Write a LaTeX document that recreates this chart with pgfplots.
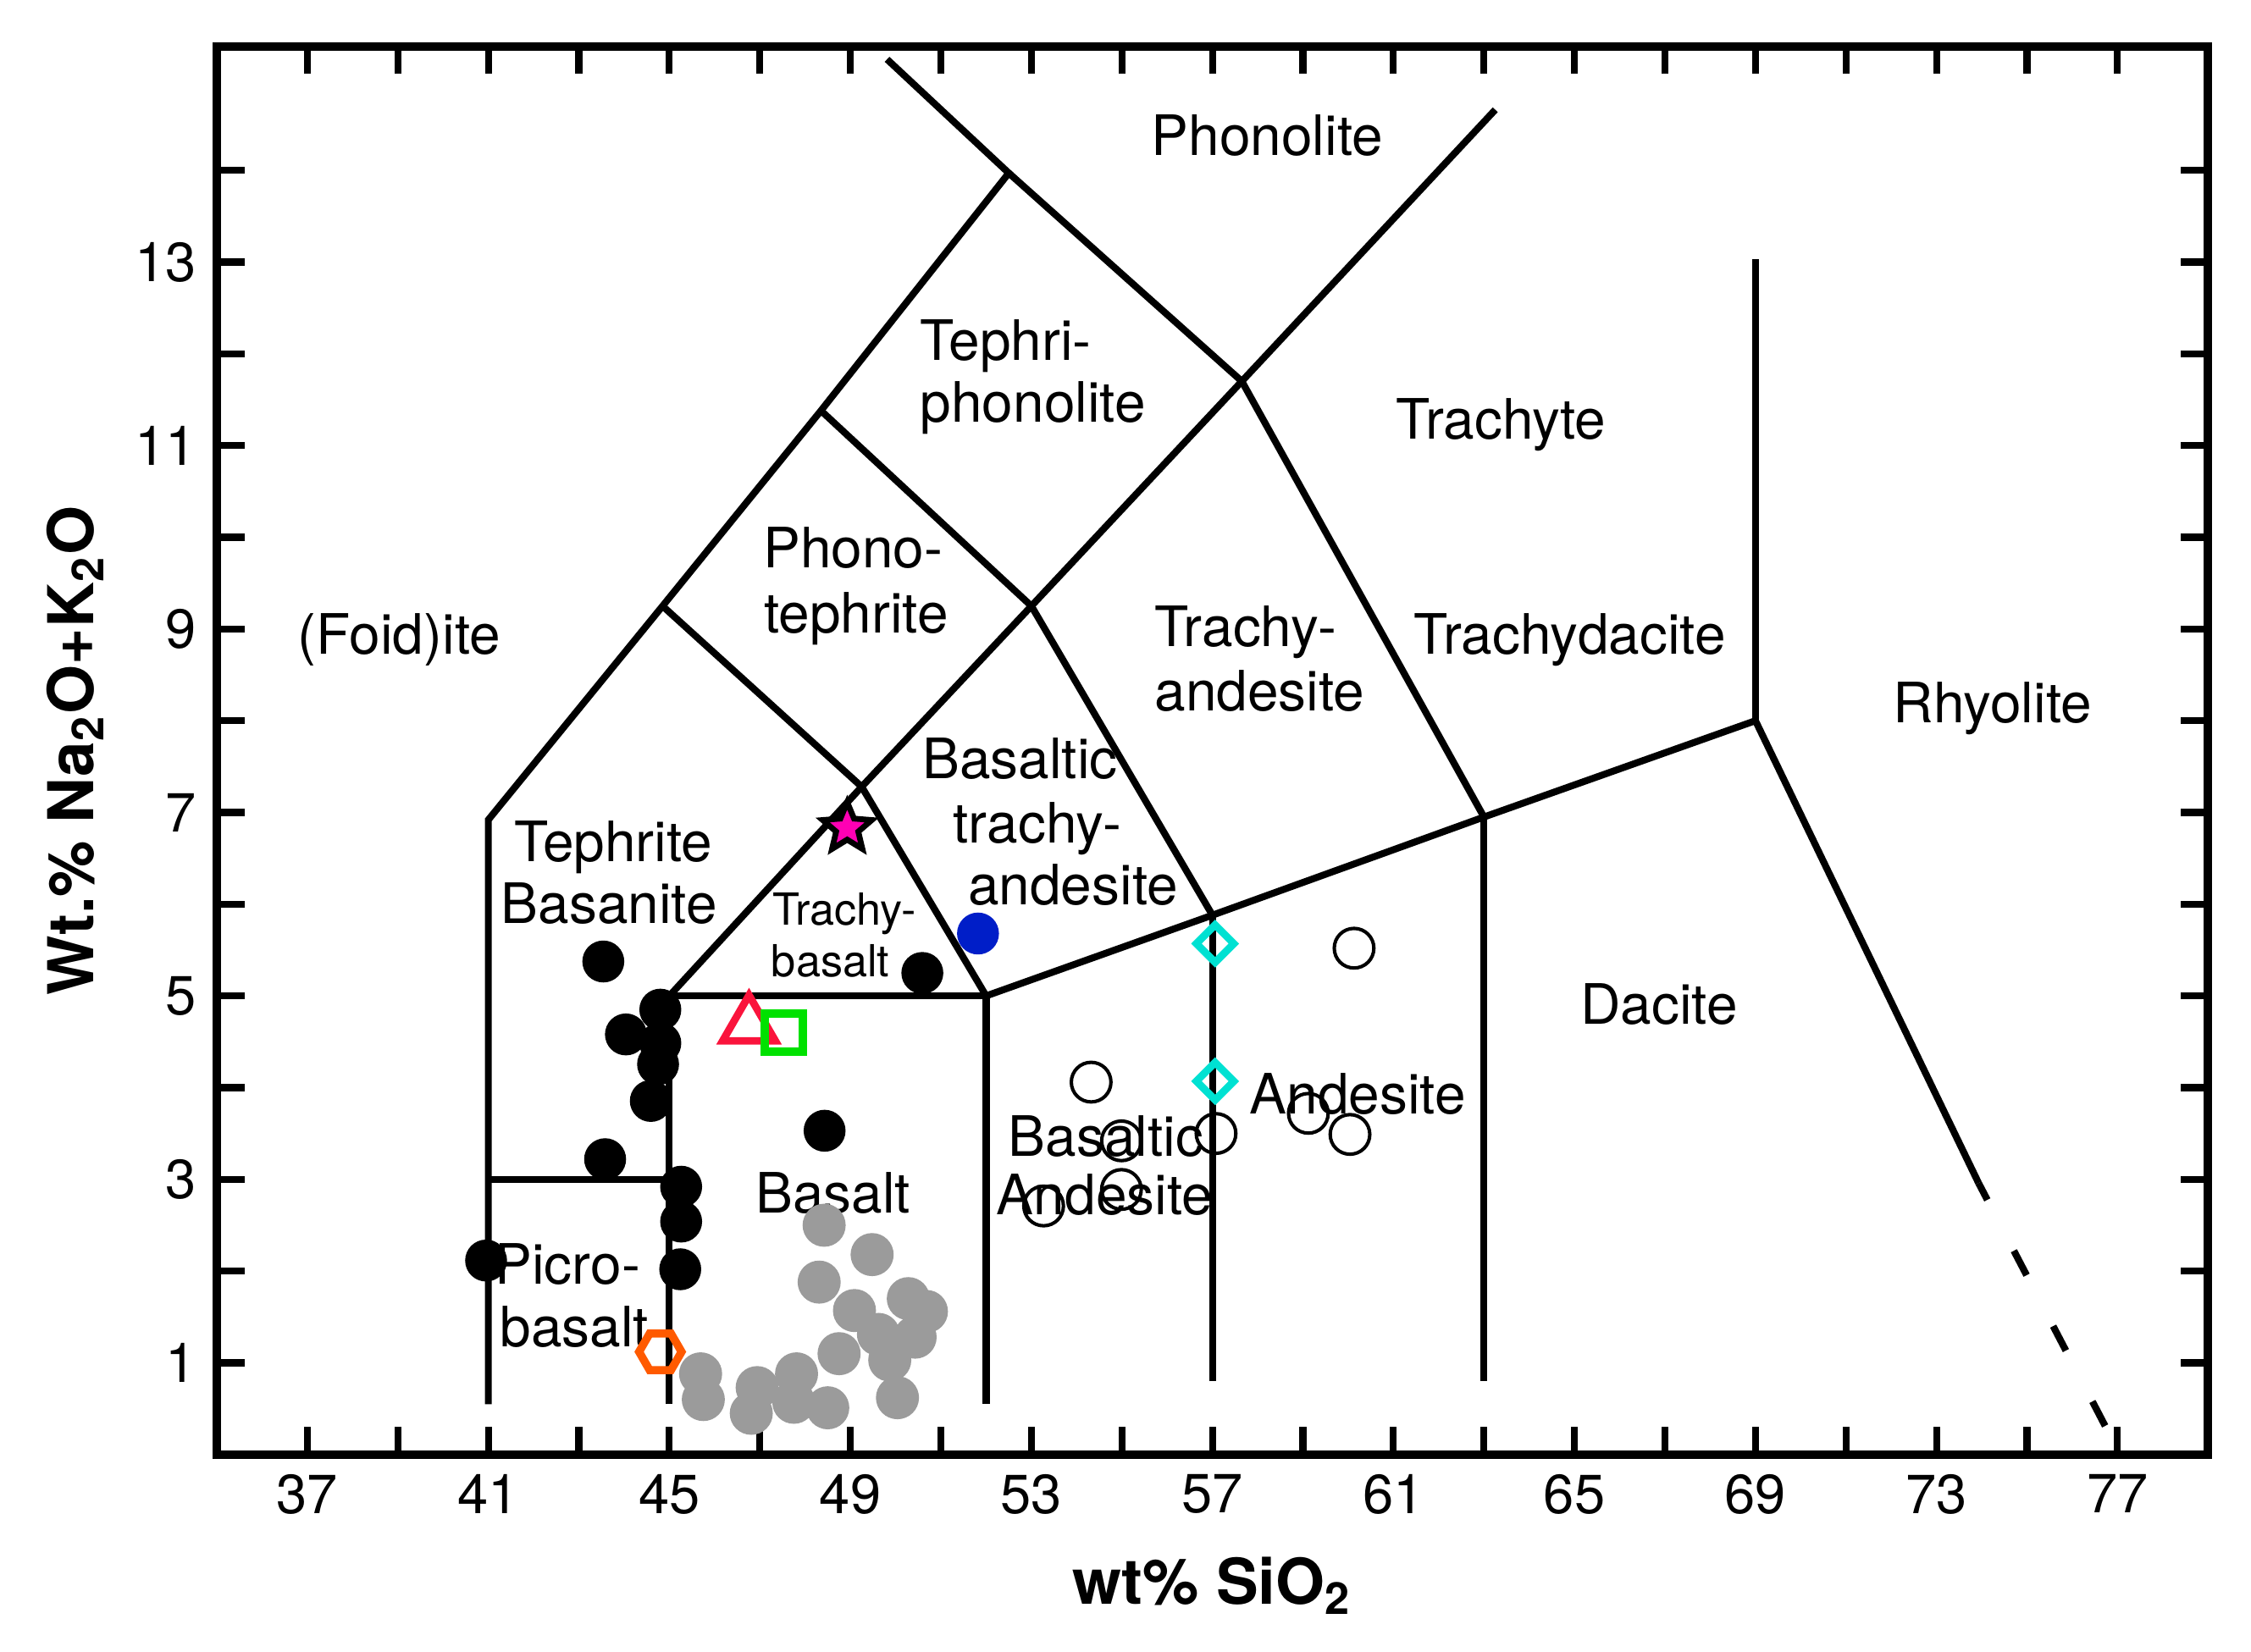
\documentclass[border=0pt]{standalone}
\usepackage{fontspec}
\setmainfont{TeX Gyre Heros}
\usepackage{pgfplots}
\pgfplotsset{compat=1.18}

\definecolor{magp}{RGB}{255,0,180}
\definecolor{turq}{RGB}{0,225,210}
\definecolor{redt}{RGB}{250,20,60}
\definecolor{greens}{RGB}{0,225,0}
\definecolor{orangeh}{RGB}{255,90,0}
\definecolor{bluep}{RGB}{0,30,200}
\definecolor{grayp}{RGB}{155,155,155}

\pgfdeclareplotmark{fivestar}{%
  \pgfpathmoveto{\pgfpointpolar{90}{\pgfplotmarksize}}%
  \pgfpathlineto{\pgfpointpolar{126}{0.45\pgfplotmarksize}}%
  \pgfpathlineto{\pgfpointpolar{162}{\pgfplotmarksize}}%
  \pgfpathlineto{\pgfpointpolar{198}{0.45\pgfplotmarksize}}%
  \pgfpathlineto{\pgfpointpolar{234}{\pgfplotmarksize}}%
  \pgfpathlineto{\pgfpointpolar{270}{0.45\pgfplotmarksize}}%
  \pgfpathlineto{\pgfpointpolar{306}{\pgfplotmarksize}}%
  \pgfpathlineto{\pgfpointpolar{342}{0.45\pgfplotmarksize}}%
  \pgfpathlineto{\pgfpointpolar{18}{\pgfplotmarksize}}%
  \pgfpathlineto{\pgfpointpolar{54}{0.45\pgfplotmarksize}}%
  \pgfpathclose
  \pgfusepathqfillstroke}

\pgfdeclareplotmark{hexagon}{%
  \pgfpathmoveto{\pgfpointpolar{0}{\pgfplotmarksize}}%
  \pgfpathlineto{\pgfpointpolar{60}{\pgfplotmarksize}}%
  \pgfpathlineto{\pgfpointpolar{120}{\pgfplotmarksize}}%
  \pgfpathlineto{\pgfpointpolar{180}{\pgfplotmarksize}}%
  \pgfpathlineto{\pgfpointpolar{240}{\pgfplotmarksize}}%
  \pgfpathlineto{\pgfpointpolar{300}{\pgfplotmarksize}}%
  \pgfpathclose
  \pgfusepathqstroke}

\newcommand{\lab}{\fontsize{9.7}{11}\selectfont}
\newcommand{\slab}{\fontsize{7.7}{9}\selectfont}
\tikzset{lb/.style={font=\lab, inner sep=0pt, anchor=mid}, sl/.style={font=\slab, inner sep=0pt, anchor=mid}}

\begin{document}
\begin{tikzpicture}
\begin{axis}[
  scale only axis, width=346.75pt, height=245.25pt,
  xmin=35, xmax=79, ymin=0, ymax=15.35,
  axis line style={line width=1.5pt},
  xtick={37,41,...,77}, minor xtick={39,43,...,75},
  ytick={1,3,...,13}, minor ytick={2,4,...,14},
  tick align=inside,
  major tick length=4.8pt, minor tick length=4.8pt,
  tick style={black, line width=1.2pt},
  tick label style={font=\fontsize{9.6}{11}\selectfont},
  /pgf/number format/assume math mode=true,
  xlabel={wt\% SiO\textsubscript{2}},
  ylabel={Wt.\% Na\textsubscript{2}O+K\textsubscript{2}O},
  label style={font=\fontsize{11}{13}\selectfont\bfseries},
  xlabel style={at={(axis description cs:0.5,-0.106)}, anchor=base},
  ylabel style={at={(axis description cs:-0.062,0.5)}, anchor=base},
  clip=false,
]
\path (axis description cs:-0.1089,-0.1402) rectangle (axis description cs:1.0216,1.0330);

% --- field boundaries ---
\addplot[black, line width=1.2pt] coordinates {(41,0.55) (41,6.92) (44.85,9.25) (48.35,11.38) (52.5,13.97) (49.81,15.21)};
\addplot[black, line width=1.2pt] coordinates {(52.5,13.97) (57.65,11.7) (63.25,14.66)};
\addplot[black, line width=1.2pt] coordinates {(57.65,11.7) (63,6.95)};
\addplot[black, line width=1.2pt] coordinates {(44.85,9.25) (49.25,7.28) (52,5)};
\addplot[black, line width=1.2pt] coordinates {(45,5) (49.25,7.28) (53,9.25) (57.65,11.7)};
\addplot[black, line width=1.2pt] coordinates {(48.35,11.38) (53,9.25) (57,5.88)};
\addplot[black, line width=1.2pt] coordinates {(52,5) (57,5.88) (63,6.95) (69,8) (73.93,2.96)};
\addplot[black, line width=1.2pt, dash pattern=on 4.8pt off 10pt, dash phase=1.5pt] coordinates {(73.93,2.96) (76.74,0.30)};
\addplot[black, line width=1.2pt] coordinates {(69,8) (69,13.03)};
\addplot[black, line width=1.2pt] coordinates {(45,0.55) (45,5) (52,5) (52,0.55)};
\addplot[black, line width=1.2pt] coordinates {(41,3) (45,3)};
\addplot[black, line width=1.2pt] coordinates {(57,0.8) (57,5.88)};
\addplot[black, line width=1.2pt] coordinates {(63,0.8) (63,6.95)};

% --- field names ---
\node[lb] at (axis cs:58.21,14.33) {Phonolite};
\node[lb, anchor=mid west] at (axis cs:50.52,12.09) {Tephri-};
\node[lb, anchor=mid west] at (axis cs:50.52,11.42) {phonolite};
\node[lb] at (axis cs:63.38,11.23) {Trachyte};
\node[lb] at (axis cs:49.06,9.83) {Phono-};
\node[lb] at (axis cs:49.13,9.125) {tephrite};
\node[lb] at (axis cs:39.03,8.89) {(Foid)ite};
\node[lb, anchor=mid west] at (axis cs:55.70,8.97) {Trachy-};
\node[lb, anchor=mid west] at (axis cs:55.70,8.27) {andesite};
\node[lb] at (axis cs:64.9,8.89) {Trachydacite};
\node[lb] at (axis cs:74.24,8.14) {Rhyolite};
\node[lb] at (axis cs:52.75,7.53) {Basaltic};
\node[lb] at (axis cs:53.13,6.83) {trachy-};
\node[lb] at (axis cs:53.92,6.16) {andesite};
\node[lb] at (axis cs:43.76,6.625) {Tephrite};
\node[lb] at (axis cs:43.67,5.95) {Basanite};
\node[sl] at (axis cs:48.87,5.94) {Trachy-};
\node[sl] at (axis cs:48.56,5.375) {basalt};
\node[lb] at (axis cs:66.87,4.86) {Dacite};
\node[lb] at (axis cs:60.21,3.875) {Andesite};
\node[lb] at (axis cs:54.65,3.42) {Basaltic};
\node[lb] at (axis cs:54.62,2.78) {Andesite};
\node[lb] at (axis cs:48.62,2.80) {Basalt};
\node[lb] at (axis cs:42.75,2.02) {Picro-};
\node[lb] at (axis cs:42.9,1.34) {basalt};

% --- samples ---
\addplot[only marks, mark=*, mark size=3.55pt, mark options={draw=grayp, fill=grayp}] coordinates {
(48.42,2.50) (49.48,2.18) (48.31,1.88) (49.09,1.57) (50.28,1.70) (50.68,1.56)
(50.43,1.28) (49.62,1.31) (49.87,1.03) (48.75,1.10) (47.81,0.88) (45.69,0.88)
(45.75,0.60) (46.94,0.73) (46.81,0.45) (48.50,0.51) (50.04,0.62) (47.75,0.57)};

\addplot[only marks, mark=*, mark size=3.45pt, mark options={draw=black, fill=black}] coordinates {
(43.54,5.375) (44.80,4.85) (44.04,4.58) (44.80,4.485) (44.75,4.255) (44.59,3.855)
(43.58,3.22) (45.26,2.92) (45.26,2.54) (45.24,2.02) (40.95,2.115) (48.43,3.53) (50.59,5.25)};

\addplot[only marks, mark=o, mark size=3.45pt, mark options={draw=black, line width=0.6pt}] coordinates {
(60.13,5.52) (54.32,4.06) (57.08,3.50) (59.12,3.72) (60.04,3.49) (54.99,3.42) (54.99,2.89) (53.27,2.71)};

\addplot[only marks, mark=*, mark size=3.45pt, mark options={draw=bluep, fill=bluep}] coordinates {(51.82,5.68)};

\addplot[only marks, mark=square, mark size=2.3pt, mark options={rotate=45, draw=turq, line width=1.3pt}] coordinates {(57.06,5.57) (57.06,4.07)};

\addplot[only marks, mark=triangle, mark size=5.3pt, mark options={draw=redt, line width=1.3pt}] coordinates {(46.76,4.676)};

\addplot[only marks, mark=square, mark size=3.35pt, mark options={draw=greens, line width=1.5pt}] coordinates {(47.53,4.60)};

\addplot[only marks, mark=hexagon, mark size=3.7pt, mark options={draw=orangeh, line width=1.4pt}] coordinates {(44.80,1.12)};

\addplot[only marks, mark=fivestar, mark size=4.5pt, mark options={draw=black, fill=magp, line width=1pt}] coordinates {(48.93,6.83)};
\end{axis}
\end{tikzpicture}
\end{document}
